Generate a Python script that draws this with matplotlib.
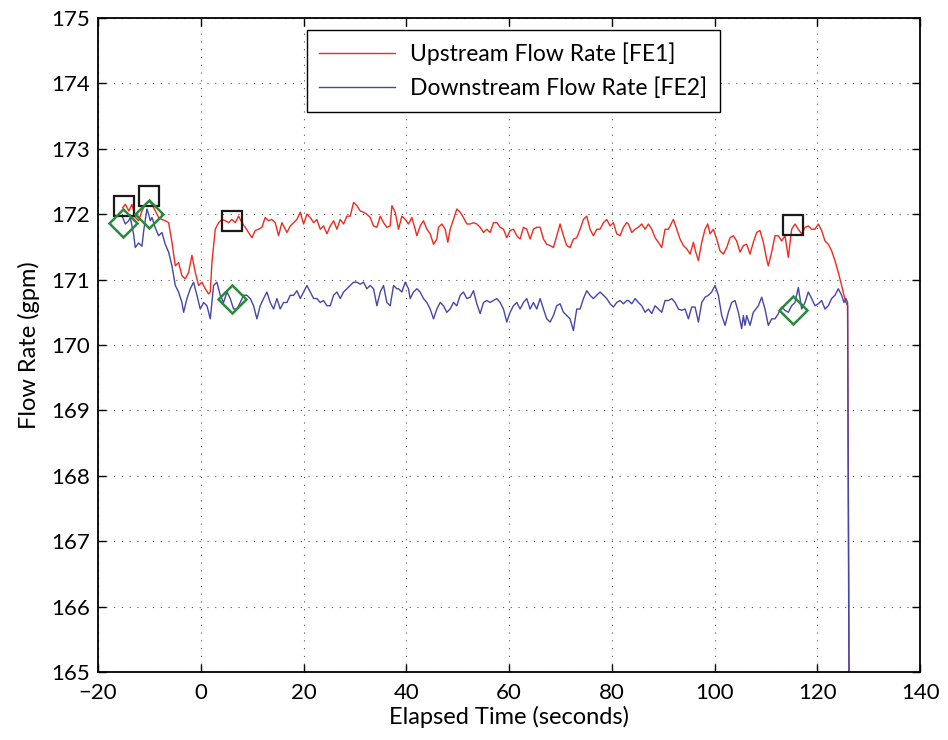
import matplotlib
matplotlib.use('Agg')
import matplotlib.pyplot as plt

plt.rcParams['font.family'] = ['Lato', 'DejaVu Sans']

# Upstream flow rate FE1 (seconds, gpm)
fe1_time = [-15.2, -14.7, -14.0, -13.4, -12.75, -12.1, -11.45, -10.8, -10.15, -9.5, -8.85, -8.2, -7.55, -6.9,
            -6.26, -5.61, -4.96, -4.32, -3.67, -3.02, -2.37, -1.72, -1.07, -0.42, 0.22, 0.87, 1.52, 1.85, 2.17,
            2.82, 3.47, 4.11, 4.76, 5.41, 6.06, 6.71, 7.36, 8.01, 8.65, 9.30, 9.95, 10.6, 11.25, 11.9, 12.55,
            13.19, 13.84, 14.49, 15.14, 15.79,
            16.12, 16.77, 17.42, 18.06, 18.71, 19.36, 20.01, 20.66, 21.31, 21.96, 22.6, 23.25, 23.9, 24.55,
            25.2, 25.85, 26.5, 27.14, 27.79, 28.44, 29.09, 29.74, 30.39, 31.03, 31.68, 32.33, 32.98, 33.63,
            34.28, 34.93, 35.57, 36.22, 36.87, 37.2, 37.84,
            38.49, 39.14, 39.79, 40.43, 41.08, 41.73, 42.06, 42.7, 43.35, 44.0, 44.65, 45.3, 45.95, 46.27,
            46.92, 47.57, 48.09, 48.54, 49.19, 49.84, 50.49, 51.13, 51.78, 52.43, 53.08, 53.73, 54.38, 55.03,
            55.67, 56.32, 56.97, 57.62, 58.27, 58.92, 59.56, 60.21,
            60.86, 61.51, 62.16, 62.8, 63.45, 64.1, 64.75, 65.4, 66.05, 66.7, 67.34, 67.99, 68.64, 69.29,
            69.94, 70.59, 71.23, 71.88, 72.53, 73.18, 73.83, 74.48, 75.13, 75.77, 76.42, 77.07, 77.72, 78.37,
            79.02, 79.67, 80.31, 80.96, 81.61, 82.26, 82.91,
            83.24, 83.89, 84.54, 85.18, 85.83, 86.48, 87.13, 87.78, 88.43, 89.07, 89.72, 90.37, 91.02, 91.67,
            91.99, 92.64, 93.29, 93.94, 94.59, 95.24, 95.88, 96.34, 96.86, 97.51, 98.15, 98.67, 99.13, 99.78,
            100.42, 101.07, 101.72, 102.37, 103.02, 103.67, 104.31, 104.96,
            105.61, 106.26, 106.91, 107.55, 108.2, 108.85, 109.5, 110.15, 110.47, 111.12, 111.77, 112.42,
            113.07, 113.72, 114.36, 115.01, 115.66, 116.31, 116.96, 117.61, 118.25, 118.9, 119.55, 120.2,
            120.85, 121.5, 122.15, 122.79, 123.44, 124.09, 124.74, 125.19, 125.58, 125.9, 126.3]
fe1_rate = [172.10, 172.15, 172.05, 172.15, 171.95, 171.90, 172.05, 172.15, 172.20, 172.15, 172.05, 171.95,
            171.92, 171.90,
            171.87, 171.57, 171.21, 171.26, 171.06, 171.01, 171.11, 171.37, 171.11, 170.91, 170.96, 170.86,
            170.78, 170.81, 171.26, 171.77, 171.87, 171.92, 171.90, 171.87, 171.92, 171.87, 171.97, 171.87,
            171.80, 171.72, 171.64, 171.75, 171.77, 171.80, 171.95, 171.90, 171.92, 171.87, 171.67, 171.87,
            171.82, 171.72, 171.82, 171.87, 171.92, 172.03, 171.85, 172.00, 171.95, 171.87, 171.92, 171.77,
            171.82, 171.70, 171.82, 171.90, 171.77, 171.92, 171.85, 171.97, 171.97, 172.18, 172.13, 172.05,
            172.03, 172.00, 171.95, 171.82, 171.80, 171.97, 171.87, 171.80, 171.82, 172.13, 172.03,
            171.77, 171.97, 171.92, 171.85, 171.95, 171.77, 171.67, 171.82, 171.90, 171.77, 171.70, 171.54,
            171.62, 171.80, 171.85, 171.77, 171.57, 171.77, 171.92, 172.08, 172.03, 171.95, 171.85, 171.85,
            171.87, 171.85, 171.80, 171.72, 171.77, 171.72, 171.87, 171.87, 171.80, 171.77, 171.64, 171.75,
            171.77, 171.67, 171.62, 171.80, 171.77, 171.62, 171.77, 171.80, 171.80, 171.62, 171.54, 171.52,
            171.49, 171.67, 171.85, 171.67, 171.52, 171.49, 171.62, 171.64, 171.77, 171.92, 171.97, 171.77,
            171.67, 171.77, 171.77, 171.87, 171.92, 171.82, 171.87, 171.70, 171.67, 171.80, 171.87,
            171.85, 171.72, 171.77, 171.80, 171.85, 171.77, 171.85, 171.77, 171.64, 171.57, 171.49, 171.77,
            171.77, 171.87, 171.92, 171.77, 171.62, 171.52, 171.47, 171.39, 171.57, 171.42, 171.29, 171.57,
            171.77, 171.85, 171.70, 171.77, 171.62, 171.44, 171.39, 171.49, 171.64, 171.67, 171.59, 171.42,
            171.52, 171.54, 171.39, 171.57, 171.72, 171.75, 171.57, 171.31, 171.21, 171.42, 171.67, 171.67,
            171.59, 171.67, 171.34, 171.77, 171.85, 171.77, 171.70, 171.80, 171.82, 171.77, 171.77, 171.85,
            171.75, 171.59, 171.54, 171.44, 171.29, 171.11, 170.91, 170.76, 170.65, 170.60, 163.0]

# Downstream flow rate FE2 (seconds, gpm)
fe2_time = [-15.2, -14.69, -14.04, -13.72, -13.07, -12.75, -12.1, -11.45, -11.12, -10.48, -10.15, -9.83,
            -9.5, -8.85, -8.21, -7.56, -6.91,
            -6.26, -5.61, -4.96, -4.32, -3.67, -3.34, -2.69, -2.05, -1.4, -0.75, -0.1, 0.55, 1.2, 1.85, 2.49,
            3.14, 3.79, 4.44, 5.09, 5.74, 6.38, 7.03, 7.68, 8.33, 8.98, 9.63, 10.28, 10.92, 11.57, 12.22,
            12.87, 13.52, 14.17, 14.82, 15.46, 16.11,
            16.77, 17.42, 18.06, 18.71, 19.36, 20.01, 20.66, 21.31, 21.96, 22.6, 23.25, 23.9, 24.55, 25.2,
            25.85, 26.5, 27.14, 27.79, 28.44, 29.09, 29.74, 30.39, 31.03, 31.68, 32.33, 32.98, 33.63, 34.28,
            34.93, 35.57, 36.22, 36.87, 37.52, 38.17,
            38.49, 39.14, 39.79, 40.43, 40.76, 41.41, 42.06, 42.7, 43.35, 44.0, 44.65, 45.3, 45.95, 46.6,
            47.24, 47.89, 48.54, 49.19, 49.84, 50.49, 51.13, 51.78, 52.43, 53.08, 53.73, 54.38, 55.03, 55.67,
            56.32, 56.97, 57.62, 58.27, 58.92, 59.56, 60.21,
            60.86, 61.51, 62.16, 62.8, 63.45, 64.1, 64.75, 65.4, 66.05, 66.7, 67.34, 67.99, 68.64, 69.29,
            69.94, 70.59, 71.23, 71.88, 72.53, 73.18, 73.83, 74.48, 75.13, 75.77, 76.42, 77.07, 77.72, 78.37,
            79.02, 79.67, 80.31, 80.96, 81.61, 82.26, 82.91,
            83.24, 83.89, 84.54, 85.18, 85.83, 86.48, 87.13, 87.78, 88.43, 89.07, 89.72, 90.37, 91.02, 91.67,
            92.32, 92.97, 93.61, 94.26, 94.91, 95.56, 96.21, 96.86, 97.51, 98.15, 98.8, 99.45, 100.1, 100.75,
            101.4, 102.05, 102.69, 103.34, 103.99, 104.64, 105.29,
            105.61, 105.93, 106.26, 106.91, 107.55, 108.53, 109.18, 109.82, 110.47, 111.12, 111.77, 112.42,
            113.07, 113.72, 114.36, 115.01, 115.66, 116.31, 116.96, 117.61, 118.25, 118.9, 119.55, 120.2,
            120.85, 121.5, 122.15, 122.79, 123.44, 124.09, 124.74, 125.19, 125.58, 125.9, 126.25]
fe2_rate = [171.95, 171.85, 171.90, 171.95, 171.69, 171.49, 171.56, 171.51, 171.74, 172.08, 172.00, 171.90,
            171.95, 171.79, 171.67, 171.72, 171.54,
            171.42, 171.21, 170.91, 170.81, 170.65, 170.50, 170.71, 170.86, 170.96, 170.76, 170.55, 170.65,
            170.60, 170.40, 170.91, 170.96, 170.76, 170.65, 170.81, 170.71, 170.55, 170.55, 170.65, 170.76,
            170.76, 170.71, 170.60, 170.40, 170.60, 170.71, 170.81, 170.65, 170.55, 170.71, 170.55, 170.65,
            170.65, 170.76, 170.76, 170.83, 170.71, 170.81, 170.91, 170.81, 170.71, 170.71, 170.65, 170.68,
            170.60, 170.60, 170.76, 170.81, 170.71, 170.81, 170.86, 170.91, 170.96, 170.96, 170.93, 170.96,
            170.86, 170.91, 170.86, 170.60, 170.81, 170.91, 170.65, 170.60, 170.91, 170.86,
            170.86, 170.81, 170.96, 170.86, 170.71, 170.81, 170.86, 170.81, 170.71, 170.65, 170.55, 170.40,
            170.55, 170.65, 170.60, 170.50, 170.55, 170.65, 170.60, 170.76, 170.81, 170.71, 170.73, 170.83,
            170.63, 170.48, 170.65, 170.68, 170.65, 170.68, 170.71, 170.65, 170.55, 170.35, 170.50,
            170.60, 170.65, 170.55, 170.65, 170.71, 170.55, 170.65, 170.55, 170.71, 170.55, 170.40, 170.35,
            170.45, 170.60, 170.63, 170.50, 170.45, 170.40, 170.22, 170.55, 170.55, 170.71, 170.83, 170.76,
            170.71, 170.76, 170.81, 170.76, 170.71, 170.63, 170.58, 170.65, 170.68, 170.63, 170.68,
            170.68, 170.63, 170.71, 170.65, 170.60, 170.50, 170.55, 170.48, 170.60, 170.55, 170.50, 170.68,
            170.68, 170.71, 170.65, 170.55, 170.53, 170.55, 170.40, 170.58, 170.58, 170.35, 170.65, 170.73,
            170.76, 170.81, 170.91, 170.76, 170.45, 170.30, 170.50, 170.65, 170.68, 170.50, 170.25,
            170.45, 170.30, 170.45, 170.30, 170.50, 170.60, 170.73, 170.55, 170.30, 170.40, 170.40, 170.48,
            170.58, 170.53, 170.50, 170.60, 170.65, 170.88, 170.55, 170.65, 170.81, 170.71, 170.60, 170.63,
            170.68, 170.55, 170.60, 170.71, 170.76, 170.86, 170.76, 170.65, 170.71, 170.65, 163.0]

# event markers
sq_time = [-15.0, -10.0, 6.0, 115.3]
sq_rate = [172.12, 172.28, 171.89, 171.84]
dm_time = [-15.1, -10.1, 6.1, 115.3]
dm_rate = [171.87, 172.00, 170.70, 170.53]

fig = plt.figure(figsize=(9.48, 7.40), dpi=100)
ax = fig.add_axes([0.1034, 0.0919, 0.8671, 0.8838])

ax.plot(fe1_time, fe1_rate, color='#f02a1e', lw=1.0, label='Upstream Flow Rate [FE1]')
ax.plot(fe2_time, fe2_rate, color='#4646a8', lw=1.0, label='Downstream Flow Rate [FE2]')
ax.plot(sq_time, sq_rate, ls='none', marker='s', ms=14, mfc='none', mec='#1a1a1a', mew=1.6)
ax.plot(dm_time, dm_rate, ls='none', marker='D', ms=14, mfc='none', mec='#2a8a3c', mew=1.8)

ax.set_xlim(-20, 140)
ax.set_ylim(165, 175)
ax.set_xticks(range(-20, 141, 20))
ax.set_yticks(range(165, 176))
ax.tick_params(direction='in', top=True, right=True, labelsize=16, length=6, width=1)
ax.tick_params(axis='x', pad=8)
ax.tick_params(axis='y', pad=6)
ax.grid(True, color='#555555', ls=(0, (1, 6)), lw=0.8)
for s in ax.spines.values():
    s.set_linewidth(1.3)

ax.set_xlabel('Elapsed Time (seconds)', fontsize=17, labelpad=2)
ax.set_ylabel('Flow Rate (gpm)', fontsize=17, labelpad=8)

leg = ax.legend(loc='upper center', bbox_to_anchor=(0.505, 0.982), borderaxespad=0, fontsize=16.5,
                fancybox=False, edgecolor='black', framealpha=1, handlelength=3.3, handletextpad=0.65,
                borderpad=0.55, labelspacing=0.55)
leg.get_frame().set_linewidth(1.0)

fig.savefig('out.png', dpi=100)
